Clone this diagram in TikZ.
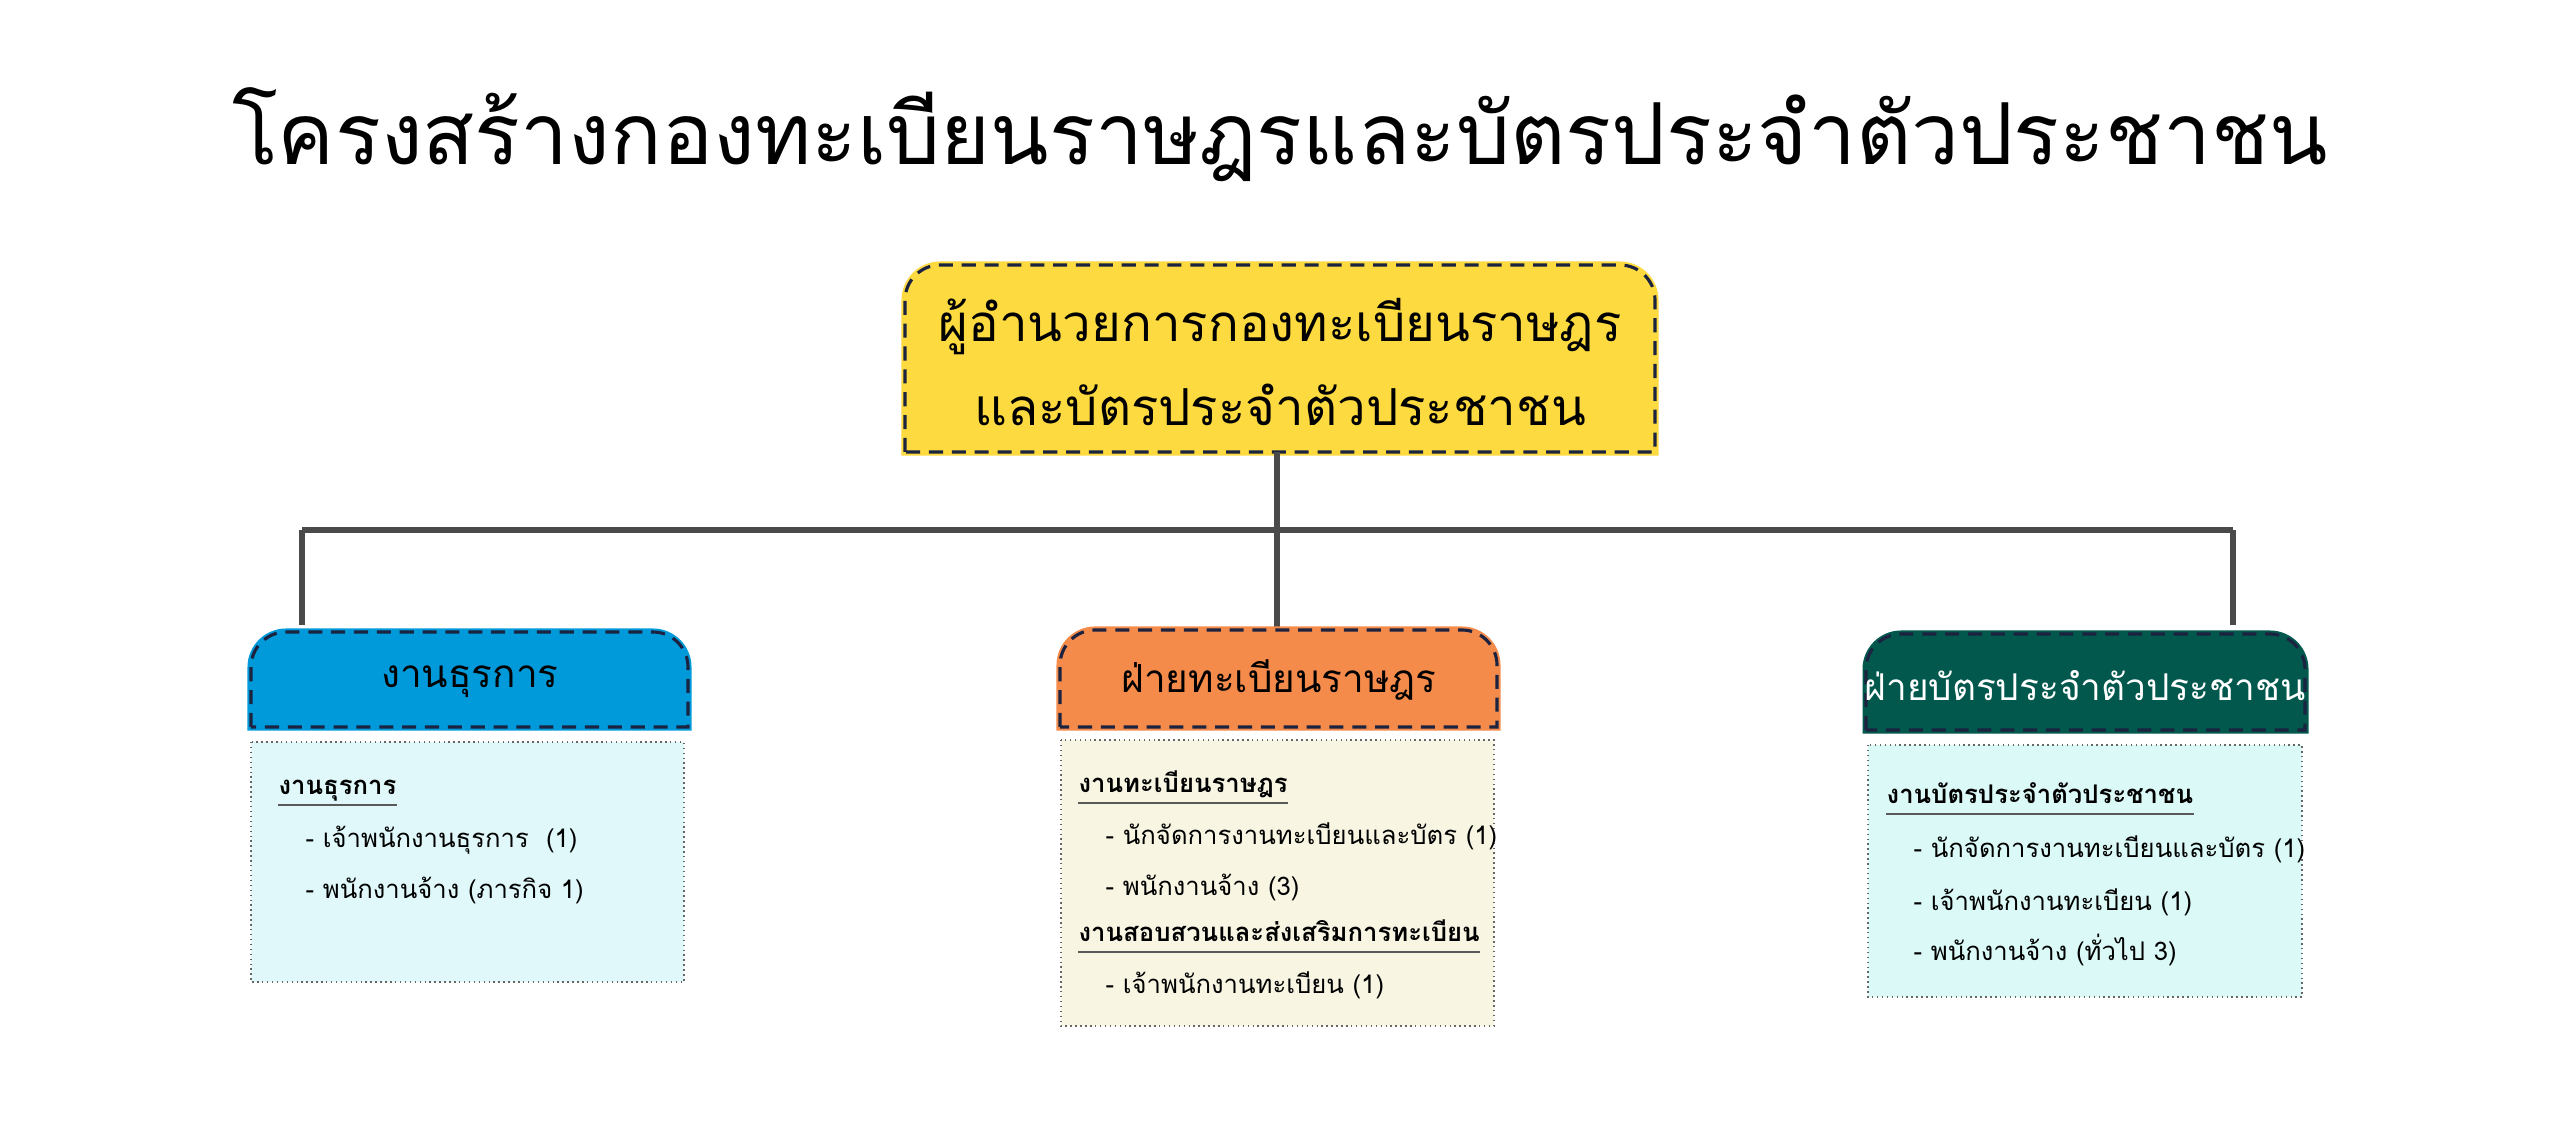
\documentclass[tikz,border=0pt]{standalone}
\usepackage{fontspec}
\setmainfont[Script=Thai]{Loma}
\usetikzlibrary{calc}
\definecolor{navy}{HTML}{1B2340}
\definecolor{lineg}{HTML}{4A4A4A}
\definecolor{cyel}{HTML}{FDDA3F}
\definecolor{cblu}{HTML}{009ADA}
\definecolor{cora}{HTML}{F58B4B}
\definecolor{cgrn}{HTML}{02584D}
\definecolor{lblu}{HTML}{E0F8FA}
\definecolor{lyel}{HTML}{F8F6E3}
\definecolor{lgrn}{HTML}{DAF9F7}
\newcommand{\hdrbox}[5]{%
  \fill[#5] (#1,#4) [rounded corners=10pt] -- (#1,#2) -- (#3,#2) [sharp corners] -- (#3,#4) -- cycle;
  \draw[#5,line width=2pt] (#1,#4) [rounded corners=10pt] -- (#1,#2) -- (#3,#2) [sharp corners] -- (#3,#4) -- cycle;
  \draw[navy,line width=0.9pt,dash pattern=on 4pt off 2.5pt] (#1,#4) [rounded corners=10pt] -- (#1,#2) -- (#3,#2) [sharp corners] -- (#3,#4) -- cycle;}
\tikzset{
  conn/.style={lineg,line width=1.5pt},
  cbox/.style={draw=gray!80!black,densely dotted,line width=0.4pt},
  hd/.style={anchor=base west,inner sep=0pt,font=\fontsize{7.3}{9}\selectfont\bfseries},
  it/.style={anchor=base west,inner sep=0pt,font=\fontsize{7.3}{9}\selectfont},
  ul/.style={gray!70!black,line width=0.5pt}
}
\begin{document}
\begin{tikzpicture}[x=0.01cm,y=-0.01cm]
\useasboundingbox (0,0) rectangle (2560,1131);
\fill[white] (0,0) rectangle (2560,1131);
\node[font=\fontsize{24.3}{28}\selectfont] (title) at (1280,135) {โครงสร้างกองทะเบียนราษฎรและบัตรประจำตัวประชาชน};
% top box
\hdrbox{905}{265}{1655}{452}{cyel}
\node[font=\fontsize{14.5}{24}\selectfont,align=center] (top) at (1280,362) {ผู้อำนวยการกองทะเบียนราษฎร\\และบัตรประจำตัวประชาชน};
\coordinate (topb) at (1277,452);
\coordinate (mid) at (1277,530);
\coordinate (l1) at (302,530);
\coordinate (r1) at (2233,530);
\coordinate (lt) at (302,625);
\coordinate (mt) at (1277,630);
\coordinate (rt) at (2233,625);
\draw[conn] (topb) -- (mid);
\draw[conn] (l1) -- (r1);
\draw[conn] (l1) -- (lt);
\draw[conn] (mid) -- (mt);
\draw[conn] (r1) -- (rt);
% headers
\hdrbox{251}{632}{688}{727}{cblu}
\node[font=\fontsize{11}{13}\selectfont] (h1) at (470,682) {งานธุรการ};
\hdrbox{1060}{630}{1497}{727}{cora}
\node[font=\fontsize{11}{13}\selectfont] (h2) at (1279,680) {ฝ่ายทะเบียนราษฎร};
\hdrbox{1866}{634}{2305}{730}{cgrn}
\node[font=\fontsize{10.5}{13}\selectfont,text=white] (h3) at (2085,686) {ฝ่ายบัตรประจำตัวประชาชน};
% contents
\fill[lblu] (251,742) rectangle (684,982); \draw[cbox] (251,742) rectangle (684,982);
\fill[lyel] (1061,740) rectangle (1494,1026); \draw[cbox] (1061,740) rectangle (1494,1026);
\fill[lgrn] (1868,745) rectangle (2302,997); \draw[cbox] (1868,745) rectangle (2302,997);
% left
\node[hd] (a0) at (278,795) {งานธุรการ};
\draw[ul] (278,805) -- (a0.base east |- 0,805);
\node[it] (a1) at (305,847) {- เจ้าพนักงานธุรการ \ (1)};
\node[it] (a2) at (305,899) {- พนักงานจ้าง (ภารกิจ 1)};
% middle
\node[hd] (b0) at (1078,793) {งานทะเบียนราษฎร};
\draw[ul] (1078,803) -- (b0.base east |- 0,803);
\node[it] (b1) at (1105,845) {- นักจัดการงานทะเบียนและบัตร (1)};
\node[it] (b2) at (1105,896) {- พนักงานจ้าง (3)};
\node[hd] (b3) at (1078,942) {งานสอบสวนและส่งเสริมการทะเบียน};
\draw[ul] (1078,952) -- (b3.base east |- 0,952);
\node[it] (b4) at (1105,993) {- เจ้าพนักงานทะเบียน (1)};
% right
\node[hd] (c0) at (1886,804) {งานบัตรประจำตัวประชาชน};
\draw[ul] (1886,814) -- (c0.base east |- 0,814);
\node[it] (c1) at (1913,858) {- นักจัดการงานทะเบียนและบัตร (1)};
\node[it] (c2) at (1913,910) {- เจ้าพนักงานทะเบียน (1)};
\node[it] (c3) at (1913,961) {- พนักงานจ้าง (ทั่วไป 3)};
\end{tikzpicture}
\end{document}
